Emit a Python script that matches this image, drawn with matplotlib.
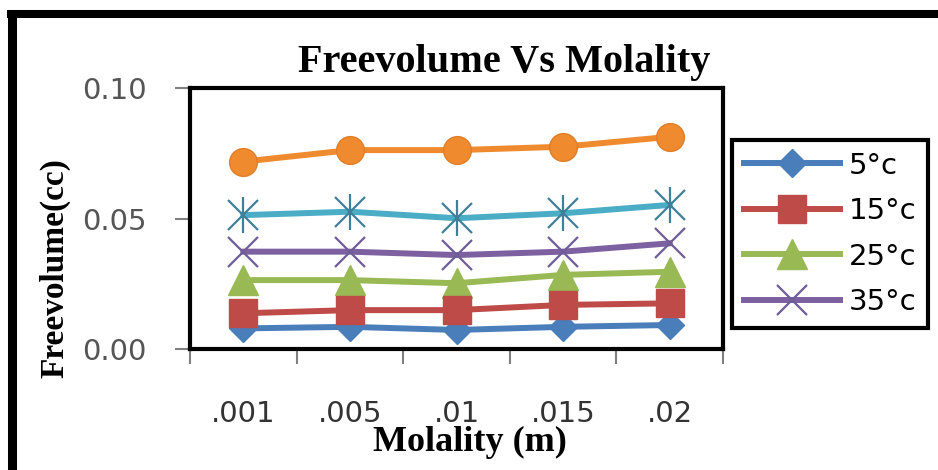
import matplotlib.pyplot as plt
from matplotlib.lines import Line2D

# data
molality = [".001", ".005", ".01", ".015", ".02"]
fv_5 = [0.0079, 0.0085, 0.0073, 0.0085, 0.0092]
fv_15 = [0.0137, 0.0149, 0.0149, 0.0169, 0.0175]
fv_25 = [0.0264, 0.0264, 0.0252, 0.0284, 0.0296]
fv_35 = [0.0373, 0.0373, 0.0360, 0.0373, 0.0405]
fv_45 = [0.0513, 0.0526, 0.0501, 0.0520, 0.0552]
fv_55 = [0.0718, 0.0762, 0.0762, 0.0775, 0.0813]
legend_labels = ["5°c", "15°c", "25°c", "35°c"]
y_ticks = [0.00, 0.05, 0.10]

fig = plt.figure(figsize=(9.38, 4.70), dpi=100)
ax = fig.add_axes([0.2026, 0.2574, 0.5682, 0.5554])

x = list(range(len(molality)))
lw = 4.3

h5, = ax.plot(x, fv_5, color="#4A7EBB", lw=lw, marker="D", ms=14,
              mec="#4A7EBB", zorder=3)
h25, = ax.plot(x, fv_25, color="#98B954", lw=lw, marker="^", ms=22,
               mec="#98B954", zorder=4)
h15, = ax.plot(x, fv_15, color="#BE4B48", lw=lw, marker="s", ms=20,
               mec="#BE4B48", zorder=5)
h35, = ax.plot(x, fv_35, color="#7D60A0", lw=lw, marker="x", ms=22,
               mew=1.6, mec="#6E5D96", zorder=6)
ax.plot(x, fv_45, color="#4AACC5", lw=lw, marker="x", ms=22,
        mew=1.6, mec="#3F8098", zorder=7)
ax.plot(x, fv_45, ls="none", marker="|", ms=26, mew=1.6,
        mec="#3F8098", zorder=7)
ax.plot(x, fv_55, color="#F08A2E", lw=lw, marker="o", ms=20,
        mec="#E07E28", zorder=8)

ax.set_xlim(-0.5, len(molality) - 0.5)
ax.set_ylim(0, 0.10)

# category boundaries get the tick marks, centres get the labels
ax.set_xticks([i - 0.5 for i in range(len(molality) + 1)])
ax.set_xticklabels([])
ax.set_xticks(x, minor=True)
ax.set_xticklabels(molality, minor=True, fontsize=21, color="#333333")
ax.tick_params(axis="x", which="minor", length=0, pad=37)
ax.tick_params(axis="x", which="major", length=11, width=1.5,
               color="#808080", direction="out")

ax.set_yticks(y_ticks)
ax.set_yticklabels([f"{v:.2f}" for v in y_ticks], fontsize=21,
                   color="#555555")
ax.tick_params(axis="y", length=11, width=1.5, color="#808080",
               direction="out", pad=20)

for s in ax.spines.values():
    s.set_color("black")
    s.set_linewidth(3)

fig.text(0.537, 0.866, "Freevolume Vs Molality", ha="center", va="center",
         fontsize=29, fontweight="bold", family="Liberation Serif")
fig.text(0.501, 0.058, "Molality (m)", ha="center", va="center",
         fontsize=26, fontweight="bold", family="Liberation Serif")
fig.text(0.058, 0.43, "Freevolume(cc)", ha="center", va="center",
         rotation=90, fontsize=24, fontweight="bold",
         family="Liberation Serif")

leg = fig.legend([h5, h15, h25, h35], legend_labels,
                 loc="upper left", bbox_to_anchor=(0.7804, 0.7021),
                 fontsize=21, handlelength=3.3, labelspacing=0.6,
                 handletextpad=0.3, borderpad=0.4, borderaxespad=0,
                 fancybox=False, framealpha=1)
leg.get_frame().set_edgecolor("black")
leg.get_frame().set_linewidth(3)

# thick black outer frame (top and left)
fig.add_artist(Line2D([7 / 938, 1], [1 - 14 / 470, 1 - 14 / 470],
                      transform=fig.transFigure, color="black",
                      lw=5.8, solid_capstyle="butt"))
fig.add_artist(Line2D([11.5 / 938, 11.5 / 938], [0, 1 - 10 / 470],
                      transform=fig.transFigure, color="black",
                      lw=6.5, solid_capstyle="butt"))

fig.savefig("out.png", dpi=100)
